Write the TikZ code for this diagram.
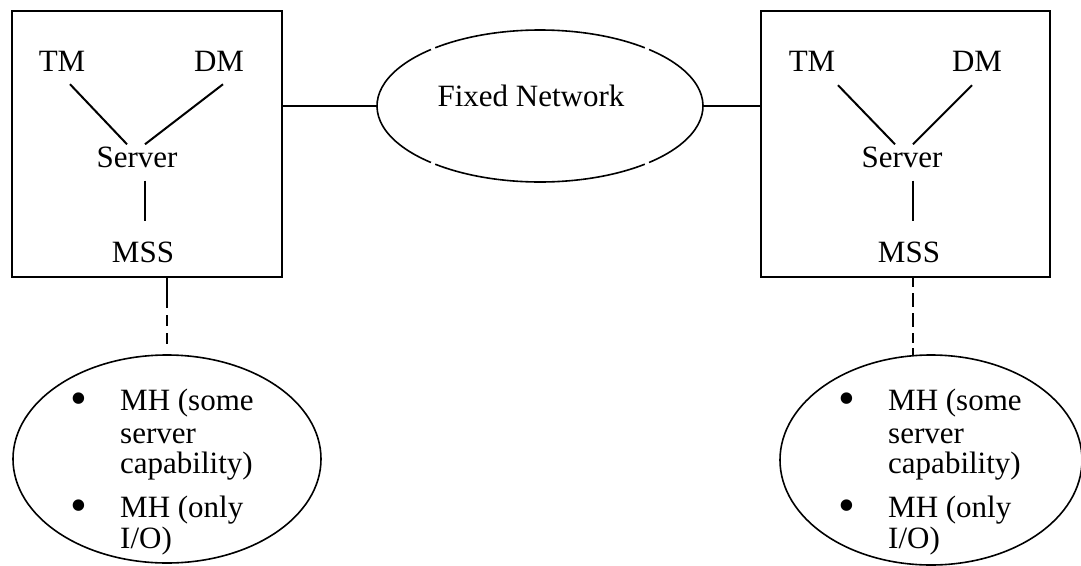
\documentclass[tikz,border=0pt]{standalone}
\usepackage{fontspec}
\setmainfont{Liberation Serif}
\usetikzlibrary{shapes.geometric}
\begin{document}
\begin{tikzpicture}[x=1pt,y=-1pt,
  lbl/.style={font=\fontsize{31}{33}\selectfont, inner sep=0pt, anchor=base},
  itm/.style={font=\fontsize{31}{33}\selectfont, inner sep=0pt, anchor=base west},
  bul/.style={font=\fontsize{48}{48}\selectfont, inner sep=0pt, anchor=base},
  boxstyle/.style={draw, line width=2pt, inner sep=0pt, outer sep=0pt},
  ellstyle/.style={ellipse, draw, line width=1.6pt, inner sep=0pt, outer sep=0pt},
  conn/.style={line width=2pt},
  arcstyle/.style={line width=1.6pt},
]
\useasboundingbox (0,0) rectangle (1081,565);
\fill[white] (0,0) rectangle (1081,565);

% boxes
\node[boxstyle, minimum width=270pt, minimum height=266pt] (lbox) at (147,144) {};
\node[boxstyle, minimum width=289pt, minimum height=266pt] (rbox) at (905.5,144) {};

% left box contents
\node[lbl] (tmL) at (62,71) {TM};
\node[lbl] (dmL) at (219,71) {DM};
\node[lbl] (srvL) at (137,167) {Server};
\node[lbl] (mssL) at (143,262) {MSS};
\draw[conn] ([shift={(8,13)}]tmL.south) -- ([shift={(-10,-2)}]srvL.north);
\draw[conn] ([shift={(4,13)}]dmL.south) -- ([shift={(8,-2)}]srvL.north);
\draw[conn] ([shift={(8,13)}]srvL.south) -- ([shift={(2,-20)}]mssL.north);

% right box contents
\node[lbl] (tmR) at (812,71) {TM};
\node[lbl] (dmR) at (977,71) {DM};
\node[lbl] (srvR) at (902,167) {Server};
\node[lbl] (mssR) at (909,262) {MSS};
\draw[conn] ([shift={(26,14)}]tmR.south) -- ([shift={(-7,-2)}]srvR.north);
\draw[conn] ([shift={(-5,14)}]dmR.south) -- ([shift={(11,-2)}]srvR.north);
\draw[conn] ([shift={(11,13)}]srvR.south) -- ([shift={(4,-20)}]mssR.north);

% fixed network
\node[ellstyle, draw=none, minimum width=326pt, minimum height=152pt] (fn) at (540,106) {};
\node[lbl] (fnt) at (531,106) {Fixed Network};
\draw[arcstyle] ([shift={(50:163pt and 76pt)}]fn.center) arc[start angle=50, end angle=130, x radius=163pt, y radius=76pt];
\draw[arcstyle] ([shift={(132:163pt and 76pt)}]fn.center) arc[start angle=132, end angle=228, x radius=163pt, y radius=76pt];
\draw[arcstyle] ([shift={(230:163pt and 76pt)}]fn.center) arc[start angle=230, end angle=310, x radius=163pt, y radius=76pt];
\draw[arcstyle] ([shift={(312:163pt and 76pt)}]fn.center) arc[start angle=312, end angle=408, x radius=163pt, y radius=76pt];
\draw[conn] (fn.west) -- (fn.west -| lbox.east);
\draw[conn] (fn.east) -- (fn.east -| rbox.west);

% mobile host ellipses
\node[ellstyle, minimum width=308pt, minimum height=208pt] (lell) at (167,459) {};
\node[ellstyle, minimum width=302pt, minimum height=210pt] (rell) at (931,460) {};

\draw[conn, dash pattern={on 31pt off 7pt on 11pt off 7pt on 11pt off 20pt}]
  ([xshift=20pt]lbox.south) -- ([xshift=20pt]lbox.south |- lell.north);
\draw[conn, dash pattern={on 10pt off 6pt on 14pt off 6pt on 14pt off 6pt on 10pt off 5pt on 7pt off 10pt}]
  ([xshift=7.5pt]rbox.south) -- ([xshift=7.5pt]rbox.south |- rell.north);

% left ellipse text
\node[bul] (bL1) at (79,414) {\textbullet};
\node[itm] (l1a) at (120,410) {MH (some};
\node[itm] (l1b) at (120,443) {server};
\node[itm] (l1c) at (120,473) {capability)};
\node[bul] (bL2) at (79,521) {\textbullet};
\node[itm] (l2a) at (120,517) {MH (only};
\node[itm] (l2b) at (120,548) {I/O)};

% right ellipse text
\node[bul] (bR1) at (847,414) {\textbullet};
\node[itm] (r1a) at (888,410) {MH (some};
\node[itm] (r1b) at (888,443) {server};
\node[itm] (r1c) at (888,473) {capability)};
\node[bul] (bR2) at (847,521) {\textbullet};
\node[itm] (r2a) at (888,517) {MH (only};
\node[itm] (r2b) at (888,548) {I/O)};
\end{tikzpicture}
\end{document}
